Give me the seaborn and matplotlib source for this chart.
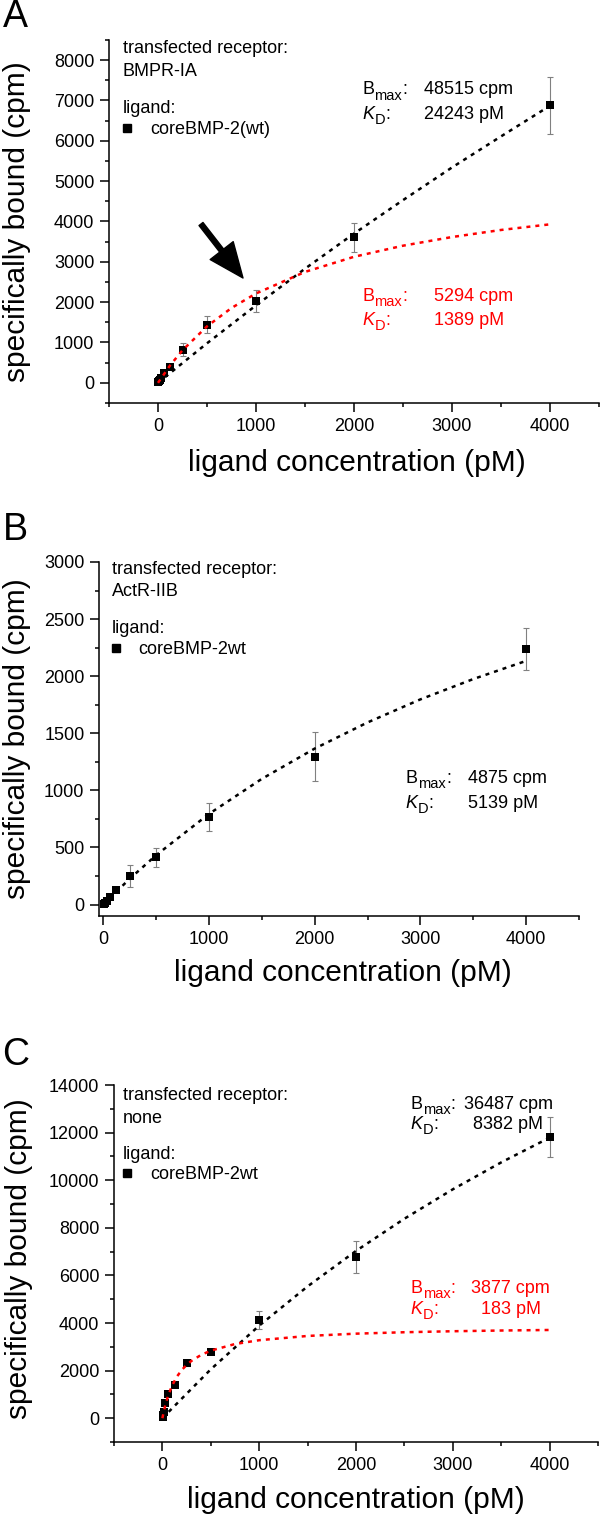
import numpy as np
import pandas as pd
import seaborn as sns
import matplotlib.pyplot as plt
from matplotlib.ticker import MultipleLocator
from matplotlib.lines import Line2D

# ligand concentrations (pM), same series in all three panels
conc = [3.9, 7.8, 15.6, 31.25, 62.5, 125, 250, 500, 1000, 2000, 4000]

# panel A: BMPR-IA
a_bound = [15, 35, 60, 110, 240, 404, 817, 1436, 2030, 3606, 6880]
a_err = [8, 10, 15, 20, 40, 60, 160, 210, 270, 350, 710]
a_fit1_x = [0, 500, 1000, 1500, 2000, 2500, 3000, 3500, 4000]
a_fit1_y = [0, 980, 1920, 2830, 3700, 4530, 5340, 6110, 6870]
a_fit2_x = [0, 125, 250, 500, 750, 1000, 1500, 2000, 2500, 3000, 3500, 4000]
a_fit2_y = [0, 437, 808, 1400, 1856, 2215, 2750, 3125, 3400, 3615, 3790, 3930]

# panel B: ActR-IIB
b_bound = [4, 8, 15, 30, 64, 131, 248, 413, 766, 1296, 2238]
b_err = [2, 3, 5, 8, 12, 20, 97, 83, 123, 212, 185]
b_fit_x = [0, 250, 500, 1000, 1500, 2000, 2500, 3000, 3500, 4000]
b_fit_y = [0, 226, 432, 794, 1101, 1366, 1595, 1797, 1975, 2134]

# panel C: no receptor
c_bound = [60, 150, 280, 630, 1015, 1390, 2317, 2793, 4128, 6765, 11820]
c_err = [30, 40, 50, 60, 80, 100, 120, 110, 370, 665, 840]
c_fit1_x = [0, 500, 1000, 1500, 2000, 2500, 3000, 3500, 4000]
c_fit1_y = [0, 2054, 3889, 5538, 7029, 8382, 9617, 10748, 11787]
c_fit2_x = [0, 15, 30, 60, 100, 150, 200, 250, 300, 400, 500, 750, 1000,
            1500, 2000, 2500, 3000, 3500, 4000]
c_fit2_y = [0, 294, 546, 958, 1370, 1747, 2025, 2238, 2408, 2660, 2838, 3117,
            3277, 3456, 3552, 3612, 3654, 3684, 3707]

sns.set_theme(style='ticks', rc={'axes.edgecolor': 'black', 'xtick.color': 'black',
                                 'ytick.color': 'black', 'text.color': 'black',
                                 'axes.labelcolor': 'black'})
plt.rcParams['font.family'] = ['Liberation Sans', 'DejaVu Sans']

W, H = 600, 1518
fig = plt.figure(figsize=(W / 100, H / 100), dpi=100)
renderer = fig.canvas.get_renderer()


def add_ax(l, t, r, b):
    return fig.add_axes([l / W, 1 - b / H, (r - l) / W, (b - t) / H])


def txt(x, y, s, color='black', ha='left', size=13, style='normal'):
    return fig.text(x / W, 1 - y / H, s, fontsize=size, color=color, ha=ha,
                    va='baseline', style=style)


def subtxt(x, y, main, sub, color='black', italic=False):
    # main letter, lowered subscript, then the colon
    t = txt(x, y, main, color=color, style='italic' if italic else 'normal')
    x2 = t.get_window_extent(renderer).x1
    t = txt(x2 + 0.5, y + 5, sub, color=color, size=10.5)
    x3 = t.get_window_extent(renderer).x1
    txt(x3, y, ':', color=color)


def marker(x, y):
    fig.add_artist(Line2D([x / W], [1 - y / H], marker='s', color='black',
                          markersize=5.8, linestyle='none'))


dots = (0, (1.6, 2.0))


def panel(ax, bound, err, fits, xlim, ylim, ymaj, ymin, xlab, ylab):
    ax.errorbar(conc, bound, yerr=err, fmt='none', ecolor='#808080',
                elinewidth=0.8, capsize=2.5, capthick=0.8, zorder=2)
    sns.scatterplot(x=conc, y=bound, marker='s', s=36, color='black',
                    edgecolor='black', linewidth=0, ax=ax, zorder=3, legend=False)
    for fx, fy, col in fits:
        sns.lineplot(x=fx, y=fy, ax=ax, color=col, lw=1.8, linestyle=dots,
                     zorder=4, sort=False, estimator=None)
    ax.xaxis.set_major_locator(MultipleLocator(1000))
    ax.xaxis.set_minor_locator(MultipleLocator(500))
    ax.yaxis.set_major_locator(MultipleLocator(ymaj))
    ax.yaxis.set_minor_locator(MultipleLocator(ymin))
    ax.set_xticks([0, 1000, 2000, 3000, 4000])
    ax.set_xlim(*xlim)
    ax.set_ylim(*ylim)
    ax.tick_params(which='major', length=6.5, width=1.1, pad=4, labelsize=13,
                   direction='out')
    ax.tick_params(which='minor', length=3, width=1.1, direction='out')
    sns.despine(ax=ax)
    for s in ['left', 'bottom']:
        ax.spines[s].set_linewidth(1.1)
    ax.set_xlabel('ligand concentration (pM)', fontsize=21.5)
    ax.set_ylabel('specifically bound (cpm)', fontsize=21.5)
    ax.xaxis.set_label_coords(*xlab)
    ax.yaxis.set_label_coords(*ylab)
    ax.xaxis.label.set_va('center')
    ax.yaxis.label.set_va('center')


# ---- A
ax_a = add_ax(109, 40, 599, 403)
panel(ax_a, a_bound, a_err, [(a_fit1_x, a_fit1_y, 'black'), (a_fit2_x, a_fit2_y, 'red')],
      (-500, 4500), (-500, 8500), 1000, 500, (0.506, -0.165), (-0.188, 0.5))
fig.text(15.5 / W, 1 - 17 / H, 'A', fontsize=27, ha='center', va='center')
txt(123, 53, 'transfected receptor:')
txt(123, 76, 'BMPR-IA')
txt(123, 113, 'ligand:')
marker(127, 128)
txt(150, 134, 'coreBMP-2(wt)')
subtxt(362, 94.5, 'B', 'max')
txt(424, 94.5, '48515 cpm')
subtxt(362, 119, 'K', 'D', italic=True)
txt(424, 119, '24243 pM')
subtxt(362, 301, 'B', 'max', color='red')
txt(434, 301, '5294 cpm', color='red')
subtxt(362, 325, 'K', 'D', color='red', italic=True)
txt(434, 325, '1389 pM', color='red')
ax_a.annotate('', xy=(243 / W, 1 - 278 / H), xytext=(201 / W, 1 - 224 / H),
              xycoords='figure fraction', textcoords='figure fraction',
              arrowprops=dict(facecolor='black', edgecolor='black', width=3.6,
                              headwidth=21, headlength=25, shrink=0))

# ---- B
ax_b = add_ax(99, 562, 579, 916)
panel(ax_b, b_bound, b_err, [(b_fit_x, b_fit_y, 'black')],
      (-40, 4500), (-100, 3000), 500, 250, (0.509, -0.161), (-0.171, 0.5))
fig.text(15.5 / W, 1 - 530 / H, 'B', fontsize=27, ha='center', va='center')
txt(112, 574, 'transfected receptor:')
txt(112, 596, 'ActR-IIB')
txt(112, 633, 'ligand:')
marker(115.6, 648)
txt(138.5, 654, 'coreBMP-2wt')
subtxt(405.7, 783, 'B', 'max')
txt(467.7, 783, '4875 cpm')
subtxt(405.7, 808, 'K', 'D', italic=True)
txt(467.7, 808, '5139 pM')

# ---- C
ax_c = add_ax(114, 1085, 598, 1442)
panel(ax_c, c_bound, c_err, [(c_fit1_x, c_fit1_y, 'black'), (c_fit2_x, c_fit2_y, 'red')],
      (-500, 4500), (-1000, 14000), 2000, 1000, (0.5, -0.162), (-0.196, 0.514))
fig.text(15.5 / W, 1 - 1055 / H, 'C', fontsize=27, ha='center', va='center')
txt(123, 1100, 'transfected receptor:')
txt(123, 1123, 'none')
txt(123, 1159, 'ligand:')
marker(127.4, 1173)
txt(150, 1179, 'coreBMP-2wt')
subtxt(410.6, 1109, 'B', 'max')
txt(464, 1109, '36487 cpm')
subtxt(410.6, 1129, 'K', 'D', italic=True)
txt(473, 1129, '8382 pM')
subtxt(410.6, 1293, 'B', 'max', color='red')
txt(471, 1293, '3877 cpm', color='red')
subtxt(410.6, 1314, 'K', 'D', color='red', italic=True)
txt(481, 1314, '183 pM', color='red')

fig.savefig('out.png', dpi=100)
